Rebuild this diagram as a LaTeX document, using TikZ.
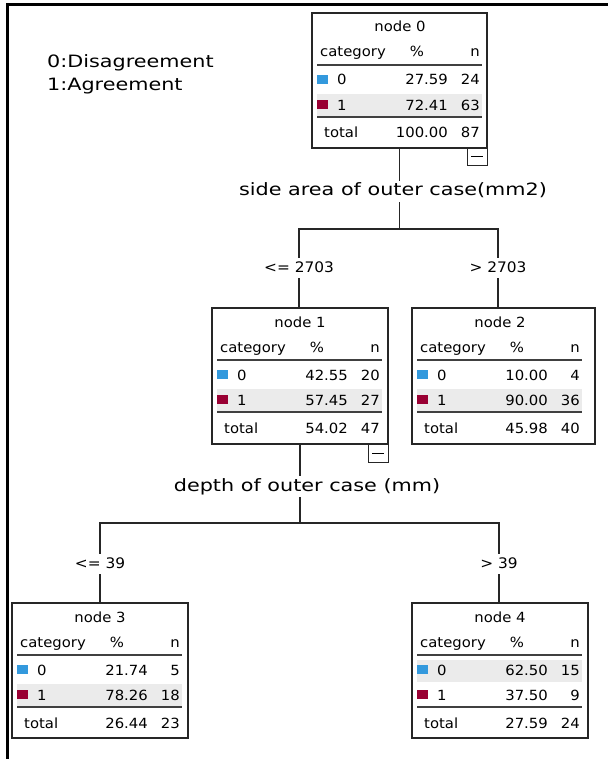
\documentclass[tikz,border=0pt]{standalone}
\usepackage{fontspec}
\setmainfont{DejaVu Sans}[FakeStretch=1.06]
\newfontfamily\bigfont{DejaVu Sans}[FakeStretch=1.22]
\definecolor{czero}{HTML}{3399DD}
\definecolor{cone}{HTML}{990033}
\definecolor{shadecol}{HTML}{EBEBEB}
\tikzset{
  tbox/.style={draw=black!85, line width=1.2, minimum height=135, inner sep=0, outer sep=0, anchor=north west},
  txt/.style={inner sep=0, font=\fontsize{14}{16}\selectfont},
  sep/.style={draw=black!75, line width=1.1},
  lbl/.style={inner xsep=0, inner ysep=3, text height=11, text depth=3, anchor=base, font=\fontsize{14.5}{17}\selectfont},
  varlbl/.style={inner xsep=0, inner ysep=2, text height=13, text depth=4, anchor=base, font=\bigfont\fontsize{17}{20}\selectfont},
  legend/.style={inner sep=0, anchor=base west, font=\bigfont\fontsize{17}{20}\selectfont},
  conn/.style={draw=black!85, line width=1.3},
  minusbox/.style={draw=black!85, line width=1, minimum width=20, minimum height=18, inner sep=0, outer sep=0, anchor=north east}
}
\newcommand{\tcontent}[9]{%
  \begin{scope}[shift={(#1.north west)}]
    \fill[shadecol] (5,#9) rectangle (170,{#9+22});
    \node[txt, anchor=base] at (88,19) {#2};
    \node[txt, anchor=base west] at (8,44) {category};
    \node[txt, anchor=base] at (105,44) {\%};
    \node[txt, anchor=base east] at (168,44) {n};
    \draw[sep] (5,52) -- (170,52);
    \fill[czero] (5,62) rectangle (16,71);
    \node[txt, anchor=base west] at (25,72) {0};
    \node[txt, anchor=base east] at (136,72) {#3};
    \node[txt, anchor=base east] at (168,72) {#4};
    \fill[cone] (5,87) rectangle (16,96);
    \node[txt, anchor=base west] at (25,97.5) {1};
    \node[txt, anchor=base east] at (136,97.5) {#5};
    \node[txt, anchor=base east] at (168,97.5) {#6};
    \draw[sep] (5,104) -- (170,104);
    \node[txt, anchor=base west] at (12,125) {total};
    \node[txt, anchor=base east] at (136,125) {#7};
    \node[txt, anchor=base east] at (168,125) {#8};
  \end{scope}}
\begin{document}
\begin{tikzpicture}[x=1pt, y=-1pt]
\useasboundingbox (0,0) rectangle (608,759);
\fill[white] (0,0) rectangle (608,759);
% outer frame (left and top)
\draw[line width=3] (7,759) -- (7,5) -- (608,5);

% legend
\node[legend] (leg0) at (47,68) {0:Disagreement};
\node[legend] (leg1) at (47,91) {1:Agreement};

% tree nodes
\node[tbox, minimum width=175] (n0) at (312,13) {};
\node[tbox, minimum width=176, minimum height=136] (n1) at (212,308) {};
\node[tbox, minimum width=183, minimum height=136] (n2) at (412,308) {};
\node[tbox, minimum width=176] (n3) at (12,603) {};
\node[tbox, minimum width=176] (n4) at (412,603) {};

\tcontent{n0}{node 0}{27.59}{24}{72.41}{63}{100.00}{87}{81}
\tcontent{n1}{node 1}{42.55}{20}{57.45}{27}{54.02}{47}{81}
\tcontent{n2}{node 2}{10.00}{4}{90.00}{36}{45.98}{40}{81}
\tcontent{n3}{node 3}{21.74}{5}{78.26}{18}{26.44}{23}{81}
\tcontent{n4}{node 4}{62.50}{15}{37.50}{9}{27.59}{24}{57}

% collapse boxes
\node[minusbox] (m0) at (n0.south east) {};
\draw[line width=1] ([xshift=4]m0.west) -- ([xshift=-4]m0.east);
\node[minusbox] (m1) at (n1.south east) {};
\draw[line width=1] ([xshift=4]m1.west) -- ([xshift=-4]m1.east);

% split labels
\node[varlbl] (s0) at (393,196) {side area of outer case(mm2)};
\node[lbl] (l1) at (299,272) {<= 2703};
\node[lbl] (l2) at (498,272) {> 2703};
\coordinate (bar0) at (0,229);

\node[varlbl] (s1) at (307,491) {depth of outer case (mm)};
\node[lbl] (l3) at (100,568) {<= 39};
\node[lbl] (l4) at (499,568) {> 39};
\coordinate (bar1) at (0,523);

% connectors level 1
\draw[conn] (n0.south) -- (n0.south |- s0.north);
\draw[conn] (n0.south |- s0.south) -- (n0.south |- bar0);
\draw[conn] (l1.north) -- (l1.north |- bar0) -- (l2.north |- bar0) -- (l2.north);
\draw[conn] (l1.south) -- (l1.south |- n1.north);
\draw[conn] (l2.south) -- (l2.south |- n2.north);

% connectors level 2
\draw[conn] (n1.south) -- (n1.south |- s1.north);
\draw[conn] (n1.south |- s1.south) -- (n1.south |- bar1);
\draw[conn] (l3.north) -- (l3.north |- bar1) -- (l4.north |- bar1) -- (l4.north);
\draw[conn] (l3.south) -- (l3.south |- n3.north);
\draw[conn] (l4.south) -- (l4.south |- n4.north);
\end{tikzpicture}
\end{document}
